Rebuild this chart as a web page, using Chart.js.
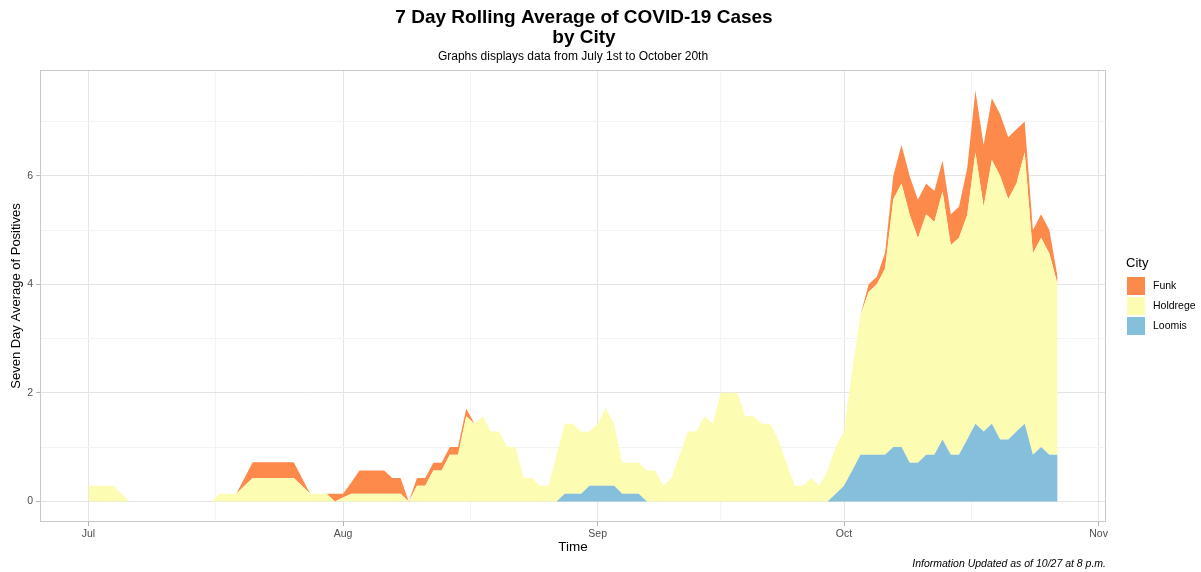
<!DOCTYPE html>
<html>
<head>
<meta charset="utf-8">
<title>7 Day Rolling Average of COVID-19 Cases by City</title>
<script src="https://cdn.jsdelivr.net/npm/chart.js@4.4.1/dist/chart.umd.min.js"></script>
<style>
  html, body { margin: 0; padding: 0; background: #fff; }
  #wrap { width: 1201px; height: 572px; }
</style>
</head>
<body>
<div id="wrap"><canvas id="chart" width="1201" height="572"></canvas></div>
<script>
// legend order (top of stack first)
const cities = ['Funk', 'Holdrege', 'Loomis'];
const cityColors = ['#fd8a4a', '#fdfcb3', '#86bfdc'];

// 7 day rolling average per city, one value per day starting July 1st
const funk = [
  0, 0, 0, 0, 0, 0, 0, 0, 0, 0,
  0, 0, 0, 0, 0, 0, 0, 0, 0, 0.14,
  0.29, 0.29, 0.29, 0.29, 0.29, 0.29, 0.14, 0, 0, 0,
  0.14, 0.07, 0.21, 0.43, 0.43, 0.43, 0.43, 0.29, 0.29, 0,
  0.14, 0.14, 0.14, 0.14, 0.14, 0.14, 0.14, 0, 0, 0,
  0, 0, 0, 0, 0, 0, 0, 0, 0, 0,
  0, 0, 0, 0, 0, 0, 0, 0, 0, 0,
  0, 0, 0, 0, 0, 0, 0, 0, 0, 0,
  0, 0, 0, 0, 0, 0, 0, 0, 0, 0,
  0, 0, 0, 0, 0, 0.14, 0.14, 0.29, 0.43, 0.71,
  0.71, 0.71, 0.57, 0.57, 0.57, 0.57, 0.57, 0.86, 1.14, 1.14,
  1.14, 1.14, 1.14, 1, 0.57, 0.43, 0.43, 0.43, 0.14
];
const holdrege = [
  0.29, 0.29, 0.29, 0.29, 0.14, 0, 0, 0, 0, 0,
  0, 0, 0, 0, 0, 0, 0.14, 0.14, 0.14, 0.29,
  0.43, 0.43, 0.43, 0.43, 0.43, 0.43, 0.29, 0.14, 0.14, 0.14,
  0, 0.07, 0.14, 0.14, 0.14, 0.14, 0.14, 0.14, 0.14, 0,
  0.29, 0.29, 0.57, 0.57, 0.86, 0.86, 1.57, 1.43, 1.57, 1.29,
  1.29, 1, 1, 0.43, 0.43, 0.29, 0.29, 0.86, 1.29, 1.29,
  1.14, 1, 1.14, 1.43, 1.14, 0.57, 0.57, 0.57, 0.57, 0.57,
  0.29, 0.43, 0.86, 1.29, 1.29, 1.57, 1.43, 2, 2, 2,
  1.57, 1.57, 1.43, 1.43, 1.14, 0.71, 0.29, 0.29, 0.43, 0.29,
  0.57, 0.86, 1, 1.86, 2.57, 3, 3.14, 3.43, 4.57, 4.86,
  4.57, 4.14, 4.43, 4.29, 4.57, 3.86, 4, 4.14, 5, 4.14,
  4.86, 4.86, 4.43, 4.57, 5, 3.71, 3.86, 3.71, 3.14
];
const loomis = [
  0, 0, 0, 0, 0, 0, 0, 0, 0, 0,
  0, 0, 0, 0, 0, 0, 0, 0, 0, 0,
  0, 0, 0, 0, 0, 0, 0, 0, 0, 0,
  0, 0, 0, 0, 0, 0, 0, 0, 0, 0,
  0, 0, 0, 0, 0, 0, 0, 0, 0, 0,
  0, 0, 0, 0, 0, 0, 0, 0, 0.14, 0.14,
  0.14, 0.29, 0.29, 0.29, 0.29, 0.14, 0.14, 0.14, 0, 0,
  0, 0, 0, 0, 0, 0, 0, 0, 0, 0,
  0, 0, 0, 0, 0, 0, 0, 0, 0, 0,
  0, 0.14, 0.29, 0.57, 0.86, 0.86, 0.86, 0.86, 1, 1,
  0.71, 0.71, 0.86, 0.86, 1.14, 0.86, 0.86, 1.14, 1.43, 1.29,
  1.43, 1.14, 1.14, 1.29, 1.43, 0.86, 1, 0.86, 0.86
];

// days since July 1st
const days = holdrege.map((v, i) => i);

const monthTicks = [0, 31, 62, 92, 123];
const monthLabels = ['Jul', 'Aug', 'Sep', 'Oct', 'Nov'];
const minorX = [15.5, 46.5, 77, 107.5];
const yTicks = [0, 2, 4, 6];
const minorY = [1, 3, 5, 7];

const FONT = '"Liberation Sans", Arial, Helvetica, sans-serif';
Chart.defaults.font.family = FONT;

const gridMajor = '#e4e4e4';
const gridMinor = '#f3f3f3';

// titles, legend, caption and panel border (ggplot look)
const decorations = {
    id: 'decorations',
    afterDatasetsDraw(chart) {
        const {ctx, chartArea: a} = chart;
        ctx.save();
        ctx.strokeStyle = '#c9c9c9';
        ctx.lineWidth = 1;
        ctx.strokeRect(a.left + 0.5, a.top + 0.5, a.right - a.left - 1, a.bottom - a.top - 1);
        ctx.restore();
    },
    afterDraw(chart) {
        const ctx = chart.ctx;
        ctx.save();
        ctx.fillStyle = '#000';
        ctx.textAlign = 'center';
        ctx.textBaseline = 'middle';
        ctx.font = 'bold 19px ' + FONT;
        ctx.fillText('7 Day Rolling Average of COVID-19 Cases', 584, 18);
        ctx.fillText('by City', 584, 38);
        ctx.font = '12px ' + FONT;
        ctx.fillText('Graphs displays data from July 1st to October 20th', 573, 57);

        ctx.textAlign = 'right';
        ctx.font = 'italic 10.5px ' + FONT;
        ctx.fillText('Information Updated as of 10/27 at 8 p.m.', 1106, 564);

        // legend
        ctx.textAlign = 'left';
        ctx.font = '13px ' + FONT;
        ctx.fillText('City', 1126, 263);
        ctx.font = '10.5px ' + FONT;
        cities.forEach((name, i) => {
            const top = 277 + i * 20;
            ctx.fillStyle = cityColors[i];
            ctx.fillRect(1127, top, 18, 18);
            ctx.fillStyle = '#000';
            ctx.fillText(name, 1153, top + 9);
        });
        ctx.restore();
    }
};

const ctx = document.getElementById('chart').getContext('2d');
new Chart(ctx, {
    type: 'line',
    data: {
        labels: days,
        datasets: [
            {label: 'Loomis', data: loomis, backgroundColor: cityColors[2], fill: 'origin'},
            {label: 'Holdrege', data: holdrege, backgroundColor: cityColors[1], fill: '-1'},
            {label: 'Funk', data: funk, backgroundColor: cityColors[0], fill: '-1'}
        ]
    },
    options: {
        responsive: false,
        devicePixelRatio: 1,
        animation: false,
        layout: {
            padding: {top: 70, right: 95, left: 0, bottom: 0}
        },
        elements: {
            line: {borderWidth: 0, tension: 0},
            point: {radius: 0, hoverRadius: 0}
        },
        plugins: {
            legend: {display: false},
            title: {display: false},
            tooltip: {enabled: false}
        },
        scales: {
            x: {
                type: 'linear',
                min: -5.9,
                max: 123.9,
                afterBuildTicks: scale => {
                    scale.ticks = monthTicks.concat(minorX).sort((a, b) => a - b).map(v => ({value: v}));
                },
                afterFit: scale => { scale.height = 50; },
                border: {display: false},
                grid: {
                    color: c => monthTicks.includes(c.tick.value) ? gridMajor : gridMinor,
                    tickColor: c => monthTicks.includes(c.tick.value) ? '#b3b3b3' : 'rgba(0,0,0,0)',
                    tickLength: 4,
                    lineWidth: 1
                },
                ticks: {
                    autoSkip: false,
                    maxRotation: 0,
                    padding: 2,
                    color: '#4d4d4d',
                    font: {size: 10.5},
                    callback: value => {
                        const i = monthTicks.indexOf(value);
                        return i >= 0 ? monthLabels[i] : '';
                    }
                },
                title: {
                    display: true,
                    text: 'Time',
                    color: '#000',
                    font: {size: 13.5},
                    padding: {top: 0, bottom: 17}
                }
            },
            y: {
                stacked: true,
                min: -0.38,
                max: 7.95,
                afterBuildTicks: scale => {
                    scale.ticks = yTicks.concat(minorY).sort((a, b) => a - b).map(v => ({value: v}));
                },
                afterFit: scale => { scale.width = 40; },
                border: {display: false},
                grid: {
                    color: c => yTicks.includes(c.tick.value) ? gridMajor : gridMinor,
                    tickColor: c => yTicks.includes(c.tick.value) ? '#b3b3b3' : 'rgba(0,0,0,0)',
                    tickLength: 4,
                    lineWidth: 1
                },
                ticks: {
                    autoSkip: false,
                    padding: 3,
                    color: '#4d4d4d',
                    font: {size: 10.5},
                    callback: value => yTicks.includes(value) ? String(value) : ''
                },
                title: {
                    display: true,
                    text: 'Seven Day Average of Positives',
                    color: '#000',
                    font: {size: 13},
                    padding: {top: 9, bottom: 0}
                }
            }
        }
    },
    plugins: [decorations]
});
</script>
</body>
</html>
